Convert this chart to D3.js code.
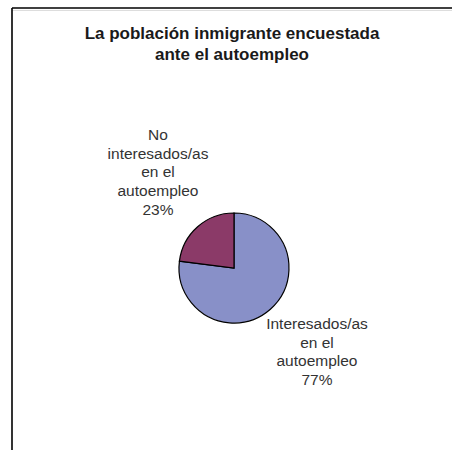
<!DOCTYPE html>
<html lang="es">
<head>
    <meta charset="utf-8">
    <script type="text/javascript" src="https://cdn.jsdelivr.net/npm/d3@7"></script>
    <style>
        body { margin: 0; background: #fff; }
    </style>
</head>
<body>
<script type="text/javascript">

    // Data
    let categories = ["Interesados/as en el autoempleo", "No interesados/as en el autoempleo"];
    let values = [77, 23];
    let labelLines = [
        ["Interesados/as", "en el", "autoempleo", "77%"],
        ["No", "interesados/as", "en el", "autoempleo", "23%"]
    ];
    let titleLines = ["La población inmigrante encuestada", "ante el autoempleo"];
    let colors = ["#8890c8", "#8b3a68"];

    let w = 452;
    let h = 450;

    let svg = d3.select("body")
        .append("svg")
        .attr("width", w)
        .attr("height", h);

    // frame (top and left edges visible)
    svg.append("line")
        .attr("x1", 12).attr("y1", 8).attr("x2", w).attr("y2", 8)
        .attr("stroke", "#000").attr("stroke-width", 1.6);
    svg.append("line")
        .attr("x1", 12).attr("y1", 10.5).attr("x2", w).attr("y2", 10.5)
        .attr("stroke", "#ddd").attr("stroke-width", 1);
    svg.append("line")
        .attr("x1", 12).attr("y1", 8).attr("x2", 12).attr("y2", h)
        .attr("stroke", "#000").attr("stroke-width", 1.6);

    // title
    svg.append("text")
        .attr("x", 232)
        .attr("y", 39)
        .attr("text-anchor", "middle")
        .style("font-family", "'Liberation Sans', Arial, sans-serif")
        .style("font-size", "17px")
        .style("font-weight", "bold")
        .style("fill", "#1a1a1a")
        .selectAll("tspan")
        .data(titleLines)
        .enter()
        .append("tspan")
        .attr("x", 232)
        .attr("dy", (d, i) => i === 0 ? 0 : 21)
        .text(d => d);

    // pie: clockwise from 12 o'clock, first slice = 77%
    let cx = 234, cy = 268, r = 55;

    let pie = d3.pie()
        .sort(null)
        .value(d => d);

    let arc = d3.arc().innerRadius(0).outerRadius(r);

    let arcs = pie(values);

    let g = svg.append("g").attr("transform", `translate(${cx},${cy})`);

    g.selectAll("path")
        .data(arcs)
        .enter()
        .append("path")
        .attr("d", arc)
        .style("fill", (d, i) => colors[i])
        .style("stroke", "#000")
        .style("stroke-width", 1.2);

    // labels
    let labelPos = [[317, 329], [158, 140]];

    labelLines.forEach(function (lines, i) {
        svg.append("text")
            .attr("text-anchor", "middle")
            .attr("y", labelPos[i][1])
            .style("font-family", "'Liberation Sans', Arial, sans-serif")
            .style("font-size", "15.5px")
            .style("fill", "#333")
            .selectAll("tspan")
            .data(lines)
            .enter()
            .append("tspan")
            .attr("x", labelPos[i][0])
            .attr("dy", (d, j) => j === 0 ? 0 : 18.7)
            .text(d => d);
    });

</script>
</body>
</html>
